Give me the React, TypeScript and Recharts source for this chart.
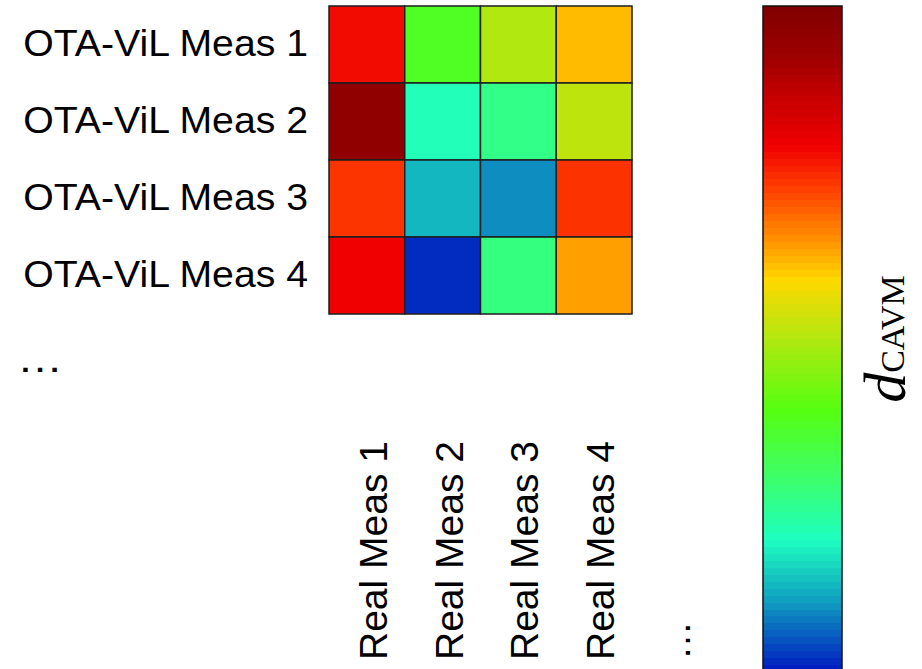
import { BarChart, Bar, XAxis, YAxis, Cell } from "recharts";

// row / column labels of the d_CAVM matrix
const rowLabels = ["OTA-ViL Meas 1", "OTA-ViL Meas 2", "OTA-ViL Meas 3", "OTA-ViL Meas 4"];
const colLabels = ["Real Meas 1", "Real Meas 2", "Real Meas 3", "Real Meas 4"];
const colKeys = ["c1", "c2", "c3", "c4"];

// normalised d_CAVM per cell (0 = bottom of colour bar, 1 = top)
const meas1 = [0.78, 0.371, 0.498, 0.614];
const meas2 = [0.956, 0.206, 0.26, 0.513];
const meas3 = [0.736, 0.13, 0.093, 0.738];
const meas4 = [0.791, 0.015, 0.269, 0.637];
const values = [meas1, meas2, meas3, meas4];

// colour map stops
const stopPos = [0, 0.108, 0.198, 0.303, 0.393, 0.498, 0.589, 0.664, 0.724, 0.791, 0.859, 0.919, 1];
const stopColor = [
  "#0018c0", "#10a0c0", "#1effc0", "#40ff60", "#55ff10", "#b0e810", "#ffd800",
  "#ff8000", "#ff4000", "#f00000", "#c80000", "#a00000", "#800000",
];

const FONT = "'Liberation Sans', Arial, sans-serif";
const BANDS = 96;

const hex = (c: string) => [1, 3, 5].map((i) => parseInt(c.slice(i, i + 2), 16));

const cmap = (v: number) => {
  const t = Math.max(0, Math.min(1, v));
  let i = 0;
  while (i < stopPos.length - 2 && t > stopPos[i + 1]) i++;
  const f = (t - stopPos[i]) / (stopPos[i + 1] - stopPos[i]);
  const a = hex(stopColor[i]);
  const b = hex(stopColor[i + 1]);
  const rgb = a.map((x, k) => Math.round(x + (b[k] - x) * f));
  return `rgb(${rgb.join(",")})`;
};

const rows = rowLabels.map((name) => {
  const r: any = { name };
  colKeys.forEach((k) => (r[k] = 1));
  return r;
});

const scaleData = [{ name: "scale", full: 1 }];

const RowTick = ({ x, y, payload, index }: any) => (
  <g>
    <text
      transform={`translate(${x + 5},${y + 11}) scale(1.06,1)`}
      textAnchor="end"
      fontSize={37}
      fontFamily={FONT}
      fill="#000"
    >
      {payload.value}
    </text>
    {index === rowLabels.length - 1 && (
      <text
        transform={`translate(17,${y + 96}) scale(1.15,1)`}
        fontSize={40}
        fontFamily={FONT}
        fill="#000"
      >
        …
      </text>
    )}
  </g>
);

const ColTick = ({ x, y, index }: any) => (
  <g>
    <text
      transform={`translate(${x + 20},${y + 2}) rotate(-90)`}
      fontSize={39}
      fontFamily={FONT}
      fill="#000"
    >
      {colLabels[index]}
    </text>
    {index === colLabels.length - 1 && (
      <text
        transform={`translate(${x + 96},${y + 2}) rotate(-90)`}
        fontSize={39}
        fontFamily={FONT}
        fill="#000"
      >
        …
      </text>
    )}
  </g>
);

const ScaleLabel = ({ viewBox }: any) => {
  const cx = viewBox.x + 63;
  const cy = viewBox.y + viewBox.height / 2;
  return (
    <text
      transform={`translate(${cx},${cy}) rotate(-90)`}
      textAnchor="middle"
      fontFamily="'Liberation Serif', 'DejaVu Serif', serif"
      fill="#000"
    >
      <tspan fontStyle="italic" fontSize={60}>d</tspan>
      <tspan fontSize={34} dy={-1}>CAVM</tspan>
    </text>
  );
};

const bandStops = Array.from({ length: BANDS }, (_, i) => {
  const c = cmap(1 - (i + 0.5) / BANDS);
  return [
    <stop key={`a${i}`} offset={`${(i / BANDS) * 100}%`} stopColor={c} />,
    <stop key={`b${i}`} offset={`${((i + 1) / BANDS) * 100}%`} stopColor={c} />,
  ];
}).flat();

export default function App() {
  return (
    <div
      style={{
        position: "fixed",
        left: 0,
        top: 0,
        width: 922,
        height: 669,
        overflow: "hidden",
        background: "#fff",
      }}
    >
      <svg width={0} height={0} style={{ position: "absolute" }}>
        <defs>
          <linearGradient id="cavmScale" x1="0" y1="0" x2="0" y2="1">
            {bandStops}
          </linearGradient>
        </defs>
      </svg>

      <div style={{ position: "absolute", left: 0, top: 0 }}>
        <BarChart
          width={922}
          height={669}
          data={rows}
          layout="vertical"
          barCategoryGap={0}
          margin={{ top: 6, right: 290, left: 0, bottom: 0 }}
        >
          <XAxis
            type="number"
            domain={[0, 4]}
            ticks={[0.5, 1.5, 2.5, 3.5]}
            height={355}
            axisLine={false}
            tickLine={false}
            tickSize={0}
            tickMargin={344}
            tick={<ColTick />}
            interval={0}
          />
          <YAxis
            type="category"
            dataKey="name"
            width={329}
            axisLine={false}
            tickLine={false}
            tickSize={0}
            tickMargin={26}
            tick={<RowTick />}
            interval={0}
          />
          {colKeys.map((k, j) => (
            <Bar
              key={k}
              dataKey={k}
              stackId="m"
              stroke="#1e1e1e"
              strokeWidth={1.5}
              isAnimationActive={false}
            >
              {rows.map((_, i) => (
                <Cell key={i} fill={cmap(values[i][j])} />
              ))}
            </Bar>
          ))}
        </BarChart>
      </div>

      <div style={{ position: "absolute", left: 740, top: 0 }}>
        <BarChart
          width={182}
          height={680}
          data={scaleData}
          barCategoryGap={0}
          margin={{ top: 6, right: 0, left: 23, bottom: 8 }}
        >
          <XAxis dataKey="name" hide />
          <YAxis
            type="number"
            domain={[0, 1]}
            orientation="right"
            width={80}
            tick={false}
            axisLine={false}
            tickLine={false}
            label={{ content: <ScaleLabel /> }}
          />
          <Bar
            dataKey="full"
            fill="url(#cavmScale)"
            stroke="#111"
            strokeWidth={1.5}
            isAnimationActive={false}
          />
        </BarChart>
      </div>
    </div>
  );
}
